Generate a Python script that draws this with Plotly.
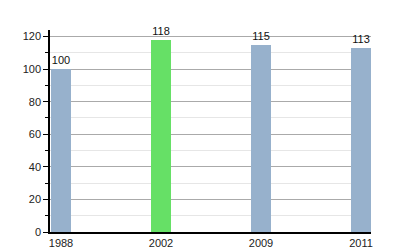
import plotly.graph_objects as go

years = ["1988", "2002", "2009", "2011"]
values = [100, 118, 115, 113]
colors = ["#97b1cc", "#66e066", "#97b1cc", "#97b1cc"]
y_ticks = [0, 20, 40, 60, 80, 100, 120]

fig = go.Figure(go.Bar(
    x=years, y=values, marker=dict(color=colors, line=dict(width=0)),
    width=0.2, text=[str(v) for v in values], textposition="outside",
    textfont=dict(size=11, color="#111", family="Liberation Sans, Arial, sans-serif"),
    cliponaxis=False,
))

fig.update_layout(
    width=400, height=250,
    margin=dict(l=50, r=29, t=30, b=18),
    paper_bgcolor="white", plot_bgcolor="white",
    showlegend=False,
    font=dict(family="Liberation Sans, Arial, sans-serif", size=11, color="#222"),
    xaxis=dict(type="category", range=[-0.11, 3.1], showline=True, linecolor="black",
               linewidth=1.5, ticks="", showgrid=False, tickfont=dict(size=11),
               automargin=False, ticklabelstandoff=0),
    yaxis=dict(range=[0, 124], tickvals=y_ticks, showline=True, linecolor="black",
               linewidth=1.5, ticks="outside", ticklen=5, tickcolor="black",
               showgrid=True, gridcolor="#aaaaaa", gridwidth=1, zeroline=False,
               minor=dict(dtick=10, tick0=0, showgrid=True, gridcolor="#e6e6e6",
                          ticks="outside", ticklen=3, tickcolor="black"),
               tickfont=dict(size=11), automargin=False),
    bargap=0,
)

fig.write_html("out.html")
